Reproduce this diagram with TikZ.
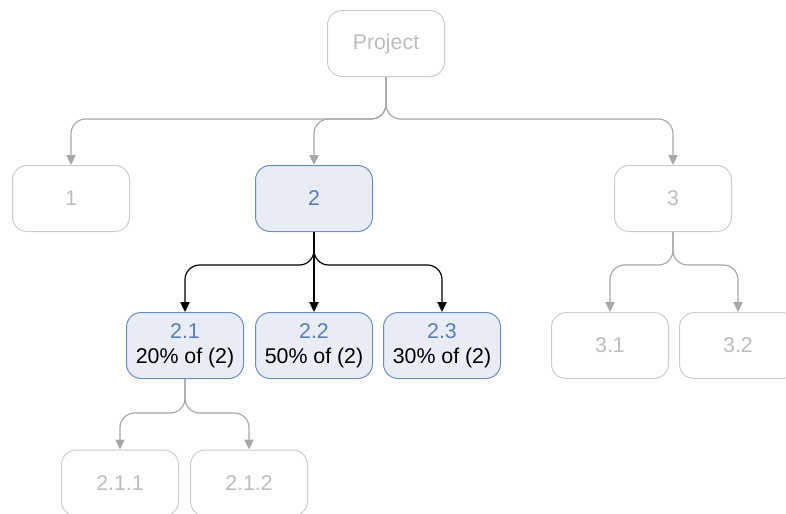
\documentclass[tikz,border=0pt]{standalone}
\usepackage{fontspec}
\setmainfont{Liberation Sans}
\usetikzlibrary{arrows.meta}
\definecolor{gline}{HTML}{A8A8A8}
\definecolor{gborder}{HTML}{CCCCCC}
\definecolor{gtext}{HTML}{BDBDBD}
\definecolor{bborder}{HTML}{6C8EBF}
\definecolor{bfill}{HTML}{E8EDF5}
\definecolor{btext}{HTML}{5A7FB8}
\tikzset{
  box/.style={rectangle, rounded corners=11pt, minimum width=87.75pt, minimum height=49.5pt,
    line width=0.75pt, font=\fontsize{16}{19}\selectfont, align=center, inner sep=0pt},
  graybox/.style={box, draw=gborder, text=gtext},
  bluebox/.style={box, draw=bborder, fill=bfill, text=black},
  gconn/.style={draw=gline, line width=0.9pt, rounded corners=11pt, -{Triangle[length=7.5pt,width=7pt]}},
  bconn/.style={draw=black, line width=0.9pt, rounded corners=11pt, -{Triangle[length=7.5pt,width=7pt]}},
}
\begin{document}
\begin{tikzpicture}[x=0.75pt,y=-0.75pt]
\useasboundingbox (0,0) rectangle (786,514);
\node[graybox] (P) at (386,43.5) {Project};
\node[graybox] (n1) at (71,198.5) {1};
\node[bluebox, text=btext] (n2) at (314,198.5) {2};
\node[graybox] (n3) at (673,198.5) {3};
\node[bluebox] (n21) at (185,345.5) {\textcolor{btext}{2.1}\\20\% of (2)};
\node[bluebox] (n22) at (314,345.5) {\textcolor{btext}{2.2}\\50\% of (2)};
\node[bluebox] (n23) at (442,345.5) {\textcolor{btext}{2.3}\\30\% of (2)};
\node[graybox] (n31) at (610,345.5) {3.1};
\node[graybox] (n32) at (738,345.5) {3.2};
\node[graybox] (n211) at (120,483) {2.1.1};
\node[graybox] (n212) at (249,483) {2.1.2};
% Project connectors
\draw[gconn] (P.south) -- ++(0,42) -| (n1.north);
\draw[gconn] (P.south) -- ++(0,42) -| (n2.north);
\draw[gconn] (P.south) -- ++(0,42) -| (n3.north);
% 2 connectors
\draw[bconn] (n2.south) -- ++(0,33) -| (n21.north);
\draw[bconn] (n2.south) -- (n22.north);
\draw[bconn] (n2.south) -- ++(0,33) -| (n23.north);
% 3 connectors
\draw[gconn] (n3.south) -- ++(0,33) -| (n31.north);
\draw[gconn] (n3.south) -- ++(0,33) -| (n32.north);
% 2.1 connectors
\draw[gconn] (n21.south) -- ++(0,34) -| (n211.north);
\draw[gconn] (n21.south) -- ++(0,34) -| (n212.north);
\end{tikzpicture}
\end{document}
